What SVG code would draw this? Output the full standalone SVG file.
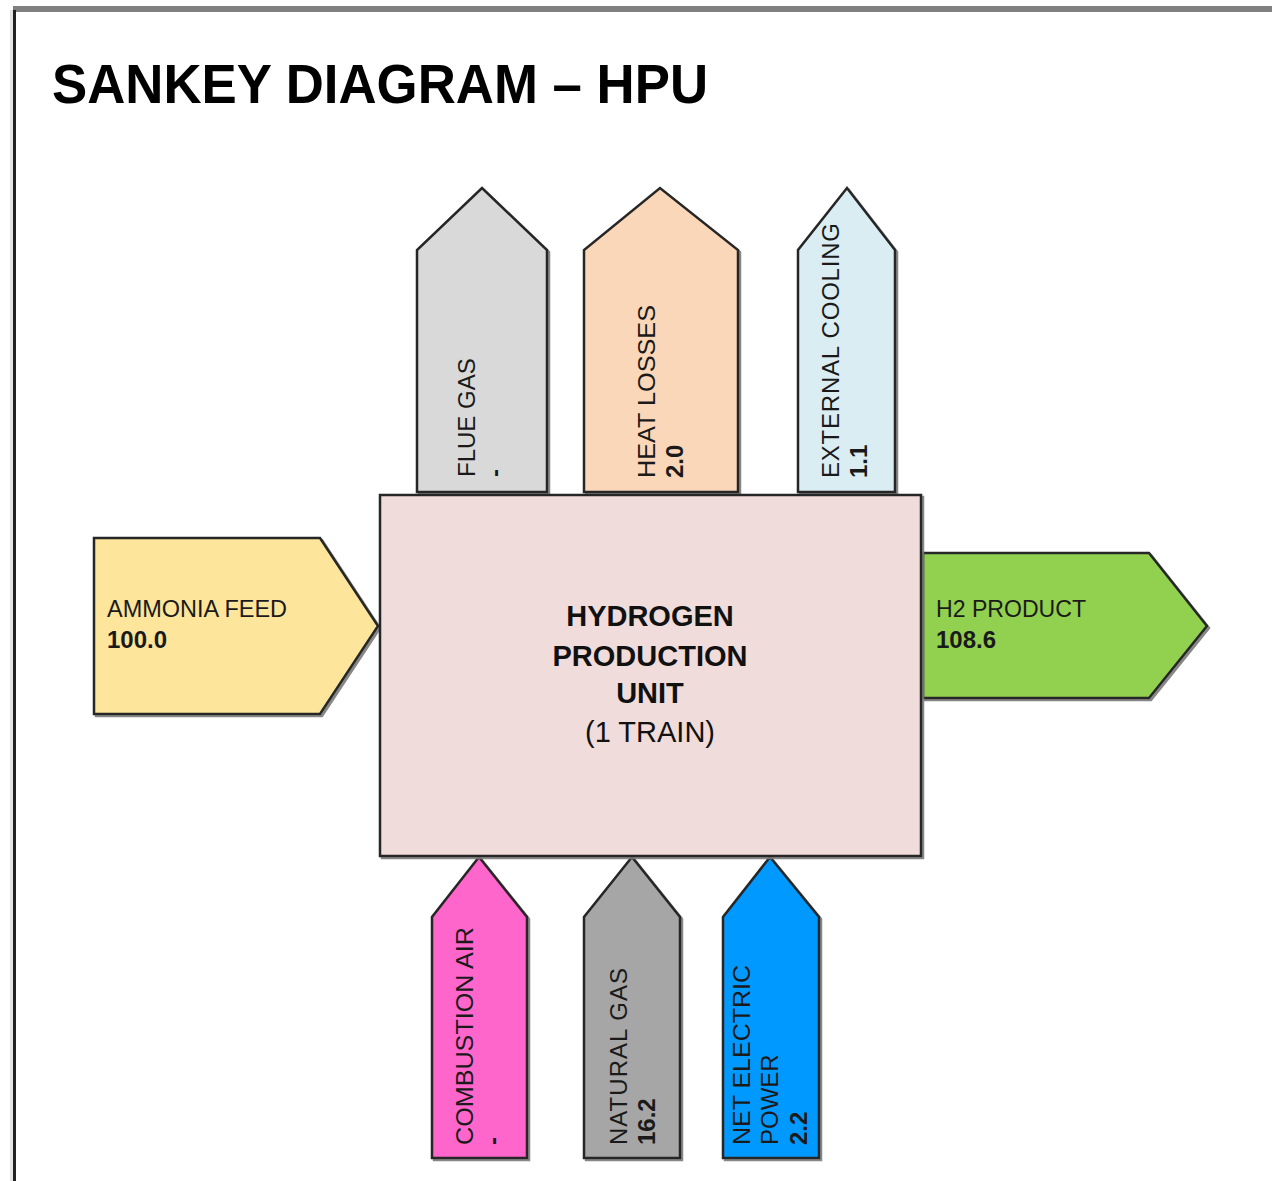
<svg xmlns="http://www.w3.org/2000/svg" width="1272" height="1181" viewBox="0 0 1272 1181">
<defs>
<filter id="sh" x="-10%" y="-10%" width="130%" height="130%">
<feDropShadow dx="2" dy="2" stdDeviation="0.6" flood-color="#7a7a7a" flood-opacity="0.9"/>
</filter>
</defs>
<style>
.sh{stroke:#262626;stroke-width:2.5;stroke-linejoin:miter;filter:url(#sh)}
.lb{font-family:"Liberation Sans",Arial,sans-serif;font-size:24px;fill:#1a1a1a}
.vl{font-family:"Liberation Sans",Arial,sans-serif;font-size:24px;font-weight:bold;fill:#1a1a1a}
.ct{font-family:"Liberation Sans",Arial,sans-serif;font-size:29px;fill:#111;text-anchor:middle}
</style>
<rect width="1272" height="1181" fill="#ffffff"/>
<rect x="13" y="6" width="1259" height="6" fill="#808080"/>
<rect x="10" y="10" width="3" height="1171" fill="#e4e4e4"/>
<rect x="13" y="10" width="3" height="1171" fill="#222222"/>
<text x="52" y="103" font-family="Liberation Sans,Arial,sans-serif" font-size="56" font-weight="bold" fill="#000" textLength="656" lengthAdjust="spacingAndGlyphs">SANKEY DIAGRAM – HPU</text>

<g id="connectors">
<g id="flue-gas">
<polygon class="sh" points="417,492 417,250 482,188 547,250 547,492" fill="#d9d9d9"/>
<text class="lb" transform="translate(475,477) rotate(-90)">FLUE GAS</text>
<text class="vl" transform="translate(503,477) rotate(-90)">-</text>
</g>
<g id="heat-losses">
<polygon class="sh" points="584,492 584,250 660,188 738,250 738,492" fill="#fad7b8"/>
<text class="lb" transform="translate(655,478) rotate(-90)" textLength="173" lengthAdjust="spacingAndGlyphs">HEAT LOSSES</text>
<text class="vl" transform="translate(683,478) rotate(-90)">2.0</text>
</g>
<g id="external-cooling">
<polygon class="sh" points="798,492 798,250 847,188 895,250 895,492" fill="#daedf3"/>
<text class="lb" transform="translate(839,478) rotate(-90)" textLength="255">EXTERNAL COOLING</text>
<text class="vl" transform="translate(867,478) rotate(-90)">1.1</text>
</g>
<g id="ammonia-feed">
<polygon class="sh" points="94,538 320,538 378,626 320,714 94,714" fill="#fde59b"/>
<text class="lb" x="107" y="617" textLength="180" lengthAdjust="spacingAndGlyphs">AMMONIA FEED</text>
<text class="vl" x="107" y="648">100.0</text>
</g>
<g id="h2-product">
<polygon class="sh" points="923,553 1149,553 1207,626 1149,698 923,698" fill="#92d050"/>
<text class="lb" x="936" y="617" textLength="150" lengthAdjust="spacingAndGlyphs">H2 PRODUCT</text>
<text class="vl" x="936" y="648">108.6</text>
</g>
<g id="combustion-air">
<polygon class="sh" points="432,1158 432,917 479,857 527,917 527,1158" fill="#ff66cc"/>
<text class="lb" transform="translate(473,1145) rotate(-90)" textLength="218" lengthAdjust="spacingAndGlyphs">COMBUSTION AIR</text>
<text class="vl" transform="translate(501,1145) rotate(-90)">-</text>
</g>
<g id="natural-gas">
<polygon class="sh" points="584,1158 584,917 632,857 680,917 680,1158" fill="#a6a6a6"/>
<text class="lb" transform="translate(627,1145) rotate(-90)" textLength="177">NATURAL GAS</text>
<text class="vl" transform="translate(655,1145) rotate(-90)">16.2</text>
</g>
<g id="net-electric-power">
<polygon class="sh" points="723,1158 723,917 770,857 819,917 819,1158" fill="#0099ff"/>
<text class="lb" transform="translate(750,1145) rotate(-90)" textLength="180" lengthAdjust="spacingAndGlyphs">NET ELECTRIC</text>
<text class="lb" transform="translate(778,1145) rotate(-90)">POWER</text>
<text class="vl" transform="translate(807,1145) rotate(-90)">2.2</text>
</g>
</g>

<g id="hpu">
<rect class="sh" x="380" y="495" width="541" height="361" fill="#f0dcda"/>
<text class="ct" x="650" y="626" font-weight="bold">HYDROGEN</text>
<text class="ct" x="650" y="666" font-weight="bold">PRODUCTION</text>
<text class="ct" x="650" y="703" font-weight="bold">UNIT</text>
<text class="ct" x="650" y="742">(1 TRAIN)</text>
</g>
</svg>
